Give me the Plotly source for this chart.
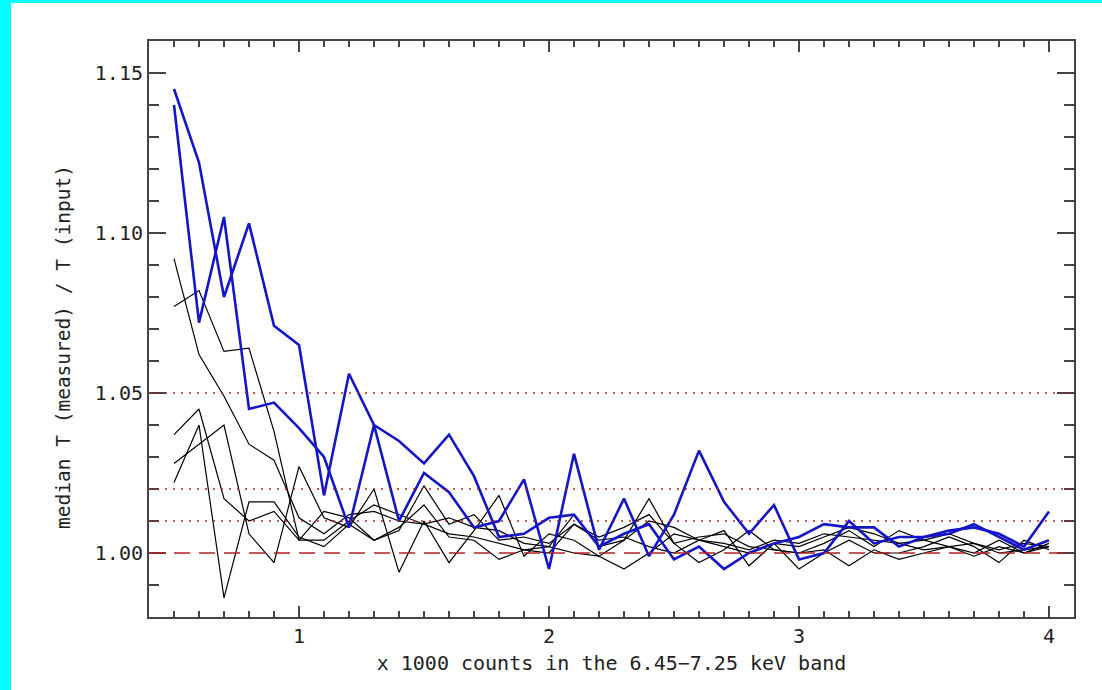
import plotly.graph_objects as go

# x positions (x 1000 counts)
counts = [0.5, 0.6, 0.7, 0.8, 0.9, 1.0, 1.1, 1.2, 1.3, 1.4, 1.5, 1.6,
          1.7, 1.8, 1.9, 2.0, 2.1, 2.2, 2.3, 2.4, 2.5, 2.6, 2.7, 2.8,
          2.9, 3.0, 3.1, 3.2, 3.3, 3.4, 3.5, 3.6, 3.7, 3.8, 3.9, 4.0]

blue_a = [1.145, 1.122, 1.080, 1.103, 1.071, 1.065, 1.018, 1.056, 1.040, 1.010, 1.025, 1.019,
          1.008, 1.010, 1.023, 0.995, 1.031, 1.001, 1.017, 0.999, 1.012, 1.032, 1.016, 1.006,
          1.015, 0.998, 1.000, 1.010, 1.003, 1.005, 1.005, 1.007, 1.008, 1.006, 1.002, 1.013]
blue_b = [1.140, 1.072, 1.105, 1.045, 1.047, 1.039, 1.030, 1.008, 1.040, 1.035, 1.028, 1.037,
          1.024, 1.005, 1.006, 1.011, 1.012, 1.002, 1.006, 1.009, 0.998, 1.002, 0.995, 1.000,
          1.003, 1.005, 1.009, 1.008, 1.008, 1.002, 1.005, 1.006, 1.009, 1.005, 1.001, 1.004]

black_1 = [1.092, 1.062, 1.049, 1.034, 1.029, 1.011, 1.006, 1.012, 1.013, 1.010, 1.009, 1.006,
           1.005, 1.003, 1.001, 1.000, 1.009, 1.004, 1.005, 1.002, 1.000, 1.004, 1.003, 1.001,
           1.004, 1.003, 1.006, 1.005, 1.004, 1.003, 1.001, 1.002, 1.003, 1.000, 1.001, 1.002]
black_2 = [1.077, 1.082, 1.063, 1.064, 1.038, 1.004, 1.004, 1.010, 1.015, 1.012, 1.009, 1.011,
           1.008, 1.007, 1.003, 1.002, 1.012, 1.002, 1.004, 1.010, 1.008, 1.004, 1.002, 1.000,
           1.003, 1.002, 1.005, 1.008, 1.006, 1.003, 1.004, 1.006, 1.003, 1.001, 1.003, 1.002]
black_3 = [1.037, 1.045, 1.017, 1.010, 1.013, 1.004, 1.013, 1.011, 1.004, 1.007, 1.021, 1.009,
           1.012, 1.004, 1.005, 1.003, 1.009, 1.005, 1.008, 1.012, 1.003, 1.005, 1.006, 1.002,
           1.001, 1.000, 1.003, 1.007, 1.002, 1.007, 1.004, 1.002, 1.000, 1.004, 1.000, 1.003]
black_4 = [1.028, 1.034, 1.040, 1.006, 0.997, 1.027, 1.011, 1.008, 1.020, 0.994, 1.010, 0.997,
           1.007, 1.018, 0.999, 1.006, 1.004, 0.999, 0.995, 1.000, 1.006, 1.004, 1.007, 0.996,
           1.003, 0.995, 1.000, 1.004, 1.000, 1.000, 1.002, 1.005, 1.002, 0.997, 1.004, 1.001]
black_5 = [1.022, 1.040, 0.986, 1.016, 1.016, 1.005, 1.002, 1.009, 1.004, 1.008, 1.015, 1.005,
           1.004, 0.998, 1.001, 1.002, 1.000, 0.999, 1.004, 1.017, 1.003, 0.997, 1.001, 1.007,
           1.001, 1.000, 1.001, 0.996, 1.001, 0.998, 1.000, 1.002, 0.999, 1.002, 1.000, 1.002]

dotted_levels = [1.01, 1.02, 1.05]
dashed_level = 1.00

x_tickvals = [1, 2, 3, 4]
y_tickvals = [1.00, 1.05, 1.10, 1.15]

BLUE = "#1414c8"
RED = "#b22222"
AXIS = "#444444"
FONT = "DejaVu Sans Mono"
TXT = "#222222"

fig = go.Figure()
for series in [black_1, black_2, black_3, black_4, black_5]:
    fig.add_trace(go.Scatter(x=counts, y=series, mode="lines",
                             line=dict(color="black", width=1.2), showlegend=False,
                             hoverinfo="skip"))

for lvl in dotted_levels:
    fig.add_hline(y=lvl, line=dict(color=RED, width=1.5, dash="2px,6px"))
fig.add_hline(y=dashed_level, line=dict(color=RED, width=1.5, dash="16px,9px"))

for series in [blue_a, blue_b]:
    fig.add_trace(go.Scatter(x=counts, y=series, mode="lines",
                             line=dict(color=BLUE, width=2.6), showlegend=False,
                             hoverinfo="skip"))

# white page with cyan strips at top and left
fig.add_shape(type="rect", xref="paper", yref="paper",
              x0=(11 - 149) / 925, x1=1.2, y0=-0.3, y1=(617 - 3) / 576,
              fillcolor="white", line=dict(width=0), layer="below")

# y-axis title (placed as rotated text, slightly below the axis centre)
fig.add_annotation(text="median T (measured) / T (input)", textangle=-90,
                   xref="paper", yref="paper", x=(63 - 149) / 925, y=(617 - 347) / 576,
                   xanchor="center", yanchor="middle", showarrow=False,
                   font=dict(size=19.5, family=FONT, color=TXT))

fig.update_layout(
    width=1102, height=690,
    margin=dict(l=149, r=28, t=41, b=73),
    paper_bgcolor="#00ffff", plot_bgcolor="white",
    font=dict(family=FONT, color=TXT),
)
fig.update_xaxes(
    range=[0.4, 4.1], tickvals=x_tickvals, ticktext=[str(v) for v in x_tickvals],
    ticks="inside", ticklen=11, tickwidth=1.5, tickcolor=AXIS,
    minor=dict(dtick=0.1, tick0=0, ticks="inside", ticklen=6, tickwidth=1.5, tickcolor=AXIS),
    showline=True, linecolor=AXIS, linewidth=2, mirror="ticks",
    showgrid=False, zeroline=False,
    tickfont=dict(size=20, family=FONT, color=TXT),
    title=dict(text="x 1000 counts in the 6.45\u22127.25 keV band",
               font=dict(size=20, family=FONT, color=TXT), standoff=9),
)
fig.update_yaxes(
    range=[0.98, 1.16], tickvals=y_tickvals, tickformat=".2f",
    ticks="inside", ticklen=17, tickwidth=1.5, tickcolor=AXIS,
    minor=dict(dtick=0.01, tick0=0, ticks="inside", ticklen=10, tickwidth=1.5, tickcolor=AXIS),
    showline=True, linecolor=AXIS, linewidth=2, mirror="ticks",
    showgrid=False, zeroline=False,
    tickfont=dict(size=20, family=FONT, color=TXT),
)

fig.write_html("out.html", config={"displayModeBar": False},
               post_script="document.body.style.margin='0';")
